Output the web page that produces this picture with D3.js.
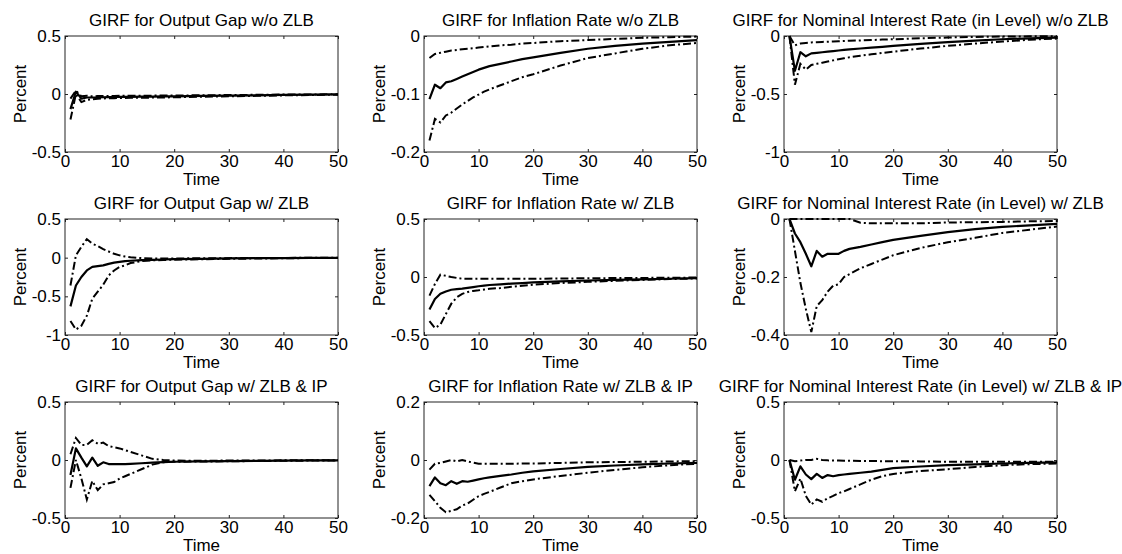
<!DOCTYPE html>
<html><head><meta charset="utf-8">
<script src="https://cdn.jsdelivr.net/npm/d3@7"></script>
<style>
body{margin:0;background:#fff}
svg{display:block}
text{font-family:Arial,"Liberation Sans",Helvetica,sans-serif;fill:#000}
</style>
</head><body>
<svg id="chart" width="1122" height="554"></svg>
<script>
// ---------- data ----------
const times = [1,2,3,4,5,6,7,8,9,10,11,12,14,16,18,20,25,30,35,40,45,50];
const xTicks = [0,10,20,30,40,50];

const titles = [
  "GIRF for Output Gap w/o ZLB",
  "GIRF for Inflation Rate w/o ZLB",
  "GIRF for Nominal Interest Rate (in Level) w/o ZLB",
  "GIRF for Output Gap w/ ZLB",
  "GIRF for Inflation Rate w/ ZLB",
  "GIRF for Nominal Interest Rate (in Level) w/ ZLB",
  "GIRF for Output Gap w/ ZLB & IP",
  "GIRF for Inflation Rate w/ ZLB & IP",
  "GIRF for Nominal Interest Rate (in Level) w/ ZLB & IP"
];

const yTicksOgNoZlb  = [-0.5, 0, 0.5];
const yTicksInfNoZlb = [-0.2, -0.1, 0];
const yTicksIntNoZlb = [-1, -0.5, 0];
const yTicksOgZlb    = [-1, -0.5, 0, 0.5];
const yTicksInfZlb   = [-0.5, 0, 0.5];
const yTicksIntZlb   = [-0.4, -0.2, 0];
const yTicksOgIp     = [-0.5, 0, 0.5];
const yTicksInfIp    = [-0.2, 0, 0.2];
const yTicksIntIp    = [-0.5, 0, 0.5];

// Output gap w/o ZLB
const ogNoZlbMean  = [-0.13,0.02,-0.04,-0.03,-0.03,-0.03,-0.028,-0.027,-0.026,-0.025,-0.025,-0.024,-0.023,-0.022,-0.021,-0.02,-0.017,-0.014,-0.011,-0.008,-0.006,-0.004];
const ogNoZlbUpper = [-0.04,0.03,-0.02,-0.015,-0.02,-0.018,-0.018,-0.017,-0.017,-0.016,-0.016,-0.015,-0.015,-0.014,-0.013,-0.013,-0.011,-0.009,-0.007,-0.005,-0.004,-0.002];
const ogNoZlbLower = [-0.22,0.0,-0.07,-0.05,-0.045,-0.04,-0.038,-0.037,-0.036,-0.035,-0.034,-0.033,-0.032,-0.031,-0.03,-0.028,-0.024,-0.02,-0.016,-0.012,-0.009,-0.006];

// Inflation w/o ZLB
const infNoZlbMean  = [-0.109,-0.084,-0.090,-0.080,-0.078,-0.074,-0.070,-0.066,-0.062,-0.058,-0.055,-0.052,-0.048,-0.044,-0.040,-0.037,-0.029,-0.022,-0.017,-0.013,-0.010,-0.007];
const infNoZlbUpper = [-0.038,-0.031,-0.029,-0.027,-0.025,-0.024,-0.023,-0.022,-0.021,-0.020,-0.019,-0.018,-0.016,-0.015,-0.013,-0.012,-0.009,-0.007,-0.005,-0.003,-0.002,-0.001];
const infNoZlbLower = [-0.180,-0.143,-0.149,-0.137,-0.132,-0.125,-0.118,-0.112,-0.106,-0.101,-0.096,-0.092,-0.085,-0.078,-0.071,-0.066,-0.051,-0.038,-0.030,-0.022,-0.016,-0.012];

// Nominal interest rate w/o ZLB
const intNoZlbMean  = [0,-0.30,-0.14,-0.175,-0.15,-0.145,-0.14,-0.135,-0.13,-0.125,-0.12,-0.115,-0.108,-0.1,-0.093,-0.085,-0.068,-0.052,-0.04,-0.028,-0.02,-0.014];
const intNoZlbUpper = [0,-0.08,-0.065,-0.06,-0.055,-0.053,-0.051,-0.049,-0.047,-0.045,-0.043,-0.041,-0.038,-0.035,-0.031,-0.028,-0.02,-0.013,-0.008,-0.005,-0.003,-0.002];
const intNoZlbLower = [0,-0.42,-0.24,-0.29,-0.25,-0.24,-0.23,-0.22,-0.21,-0.2,-0.192,-0.184,-0.17,-0.158,-0.146,-0.135,-0.108,-0.085,-0.065,-0.048,-0.032,-0.022];

// Output gap w/ ZLB
const ogZlbMean  = [-0.63,-0.36,-0.25,-0.165,-0.12,-0.11,-0.10,-0.08,-0.065,-0.055,-0.045,-0.04,-0.033,-0.028,-0.024,-0.02,-0.015,-0.01,-0.007,-0.005,-0.003,-0.002];
const ogZlbUpper = [-0.36,0.03,0.14,0.24,0.18,0.15,0.11,0.08,0.05,0.03,0.015,0.005,-0.005,-0.01,-0.01,-0.01,-0.008,-0.006,-0.004,-0.003,-0.002,-0.001];
const ogZlbLower = [-0.82,-0.93,-0.88,-0.75,-0.53,-0.44,-0.35,-0.23,-0.165,-0.12,-0.10,-0.07,-0.045,-0.035,-0.03,-0.027,-0.02,-0.015,-0.011,-0.008,-0.005,-0.003];

// Inflation w/ ZLB
const infZlbMean  = [-0.28,-0.19,-0.145,-0.125,-0.11,-0.104,-0.10,-0.094,-0.087,-0.08,-0.074,-0.069,-0.063,-0.057,-0.052,-0.047,-0.038,-0.03,-0.025,-0.02,-0.015,-0.01];
const infZlbUpper = [-0.16,-0.06,0.02,0.01,0.0,-0.008,-0.015,-0.016,-0.016,-0.015,-0.015,-0.015,-0.015,-0.015,-0.015,-0.015,-0.013,-0.011,-0.009,-0.008,-0.006,-0.005];
const infZlbLower = [-0.38,-0.44,-0.41,-0.32,-0.23,-0.175,-0.145,-0.13,-0.12,-0.115,-0.108,-0.102,-0.095,-0.085,-0.075,-0.067,-0.052,-0.042,-0.033,-0.025,-0.018,-0.012];

// Nominal interest rate w/ ZLB
const intZlbMean  = [0,-0.05,-0.08,-0.12,-0.163,-0.11,-0.13,-0.12,-0.12,-0.12,-0.11,-0.103,-0.096,-0.088,-0.08,-0.072,-0.058,-0.045,-0.035,-0.027,-0.022,-0.017];
const intZlbUpper = [0,0,0,0,0,0,0,0,0,0,0,0,-0.013,-0.015,-0.015,-0.015,-0.015,-0.012,-0.011,-0.01,-0.008,-0.007];
const intZlbLower = [0,-0.11,-0.22,-0.31,-0.39,-0.30,-0.28,-0.25,-0.23,-0.225,-0.2,-0.19,-0.17,-0.155,-0.14,-0.125,-0.1,-0.08,-0.065,-0.048,-0.037,-0.026];

// Output gap w/ ZLB & IP
const ogIpMean  = [-0.13,0.10,0.02,-0.055,0.02,-0.05,-0.02,-0.035,-0.035,-0.035,-0.035,-0.033,-0.028,-0.022,-0.018,-0.015,-0.012,-0.01,-0.007,-0.005,-0.004,-0.003];
const ogIpUpper = [0.05,0.19,0.13,0.13,0.17,0.14,0.15,0.12,0.11,0.10,0.085,0.07,0.04,0.01,0.0,-0.005,-0.006,-0.005,-0.004,-0.003,-0.002,-0.001];
const ogIpLower = [-0.24,0.0,-0.16,-0.34,-0.18,-0.26,-0.21,-0.2,-0.19,-0.16,-0.14,-0.12,-0.08,-0.04,-0.02,-0.015,-0.013,-0.011,-0.009,-0.007,-0.005,-0.004];

// Inflation w/ ZLB & IP
const infIpMean  = [-0.09,-0.06,-0.08,-0.087,-0.073,-0.082,-0.073,-0.075,-0.071,-0.067,-0.063,-0.06,-0.055,-0.05,-0.044,-0.039,-0.031,-0.024,-0.019,-0.015,-0.012,-0.01];
const infIpUpper = [-0.033,-0.013,-0.01,-0.005,0.0,-0.005,0.0,-0.005,-0.009,-0.013,-0.013,-0.013,-0.013,-0.013,-0.012,-0.012,-0.01,-0.008,-0.007,-0.006,-0.005,-0.004];
const infIpLower = [-0.12,-0.142,-0.165,-0.18,-0.175,-0.17,-0.157,-0.15,-0.137,-0.125,-0.117,-0.11,-0.095,-0.08,-0.073,-0.067,-0.055,-0.044,-0.034,-0.025,-0.018,-0.013];

// Nominal interest rate w/ ZLB & IP
const intIpMean  = [0,-0.17,-0.055,-0.125,-0.165,-0.12,-0.155,-0.13,-0.14,-0.13,-0.125,-0.12,-0.11,-0.1,-0.085,-0.07,-0.056,-0.045,-0.037,-0.03,-0.025,-0.02];
const intIpUpper = [0,-0.01,-0.005,0.0,0.0,0.01,0.0,-0.003,-0.004,-0.005,-0.006,-0.007,-0.008,-0.009,-0.01,-0.01,-0.012,-0.015,-0.015,-0.015,-0.015,-0.015];
const intIpLower = [0,-0.27,-0.16,-0.31,-0.385,-0.34,-0.36,-0.33,-0.31,-0.285,-0.27,-0.25,-0.21,-0.17,-0.14,-0.12,-0.095,-0.08,-0.06,-0.045,-0.036,-0.03];

// ---------- assemble ----------
const panelYTicks = [yTicksOgNoZlb,yTicksInfNoZlb,yTicksIntNoZlb,yTicksOgZlb,yTicksInfZlb,yTicksIntZlb,yTicksOgIp,yTicksInfIp,yTicksIntIp];
const panelSeries = [
  [ogNoZlbMean,ogNoZlbUpper,ogNoZlbLower],
  [infNoZlbMean,infNoZlbUpper,infNoZlbLower],
  [intNoZlbMean,intNoZlbUpper,intNoZlbLower],
  [ogZlbMean,ogZlbUpper,ogZlbLower],
  [infZlbMean,infZlbUpper,infZlbLower],
  [intZlbMean,intZlbUpper,intZlbLower],
  [ogIpMean,ogIpUpper,ogIpLower],
  [infIpMean,infIpUpper,infIpLower],
  [intIpMean,intIpUpper,intIpLower]
];

// ---------- layout ----------
const colLeft = [65, 424, 784];
const rowTop = [36, 219, 402];
const pw = 273, ph = 116;
const FS = "17px";
const svg = d3.select("#chart");
const fmt = d => String(d);

titles.forEach((title, i) => {
  const r = Math.floor(i / 3), c = i % 3;
  const L = colLeft[c], T = rowTop[r], R = L + pw, B = T + ph;
  const yt = panelYTicks[i];
  const x = d3.scaleLinear().domain([0, 50]).range([L, R]);
  const y = d3.scaleLinear().domain([d3.min(yt), d3.max(yt)]).range([B, T]);
  const g = svg.append("g");

  g.append("rect").attr("x", L).attr("y", T).attr("width", pw).attr("height", ph)
    .attr("fill", "#fff").attr("stroke", "#222").attr("stroke-width", 1);

  const style = sel => {
    sel.select(".domain").remove();
    sel.selectAll("line").attr("stroke", "#222");
    sel.selectAll("text").style("font-size", FS).attr("fill", "#000");
  };
  g.append("g").attr("transform", `translate(0,${B})`)
    .call(d3.axisBottom(x).tickValues(xTicks).tickFormat(fmt).tickSizeInner(-3).tickSizeOuter(0).tickPadding(3)).call(style);
  g.append("g").attr("transform", `translate(0,${T})`)
    .call(d3.axisTop(x).tickValues(xTicks).tickFormat("").tickSizeInner(-3).tickSizeOuter(0)).call(style);
  g.append("g").attr("transform", `translate(${L},0)`)
    .call(d3.axisLeft(y).tickValues(yt).tickFormat(fmt).tickSizeInner(-3).tickSizeOuter(0).tickPadding(4)).call(style);
  g.append("g").attr("transform", `translate(${R},0)`)
    .call(d3.axisRight(y).tickValues(yt).tickFormat("").tickSizeInner(-3).tickSizeOuter(0)).call(style);

  const line = d3.line().x((d, k) => x(times[k])).y(d => y(d));
  const [mean, upper, lower] = panelSeries[i];
  [upper, lower].forEach(s => {
    g.append("path").datum(s).attr("d", line).attr("fill", "none")
      .attr("stroke", "#000").attr("stroke-width", 2)
      .attr("stroke-dasharray", "8,3,2,3");
  });
  g.append("path").datum(mean).attr("d", line).attr("fill", "none")
    .attr("stroke", "#000").attr("stroke-width", 2.2).attr("stroke-linejoin", "round");

  g.append("text").attr("x", (L + R) / 2).attr("y", T - 10).attr("text-anchor", "middle")
    .style("font-size", FS).text(title);
  g.append("text").attr("x", (L + R) / 2).attr("y", B + 33).attr("text-anchor", "middle")
    .style("font-size", FS).text("Time");
  g.append("text").attr("transform", `translate(${L - 39},${(T + B) / 2}) rotate(-90)`)
    .attr("text-anchor", "middle").style("font-size", FS).text("Percent");
});
</script>
</body></html>
